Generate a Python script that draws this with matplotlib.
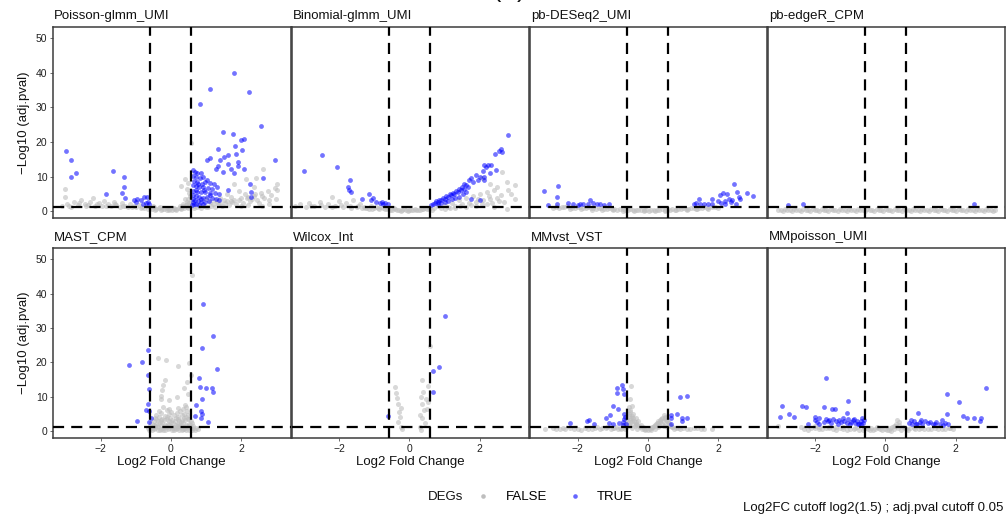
import numpy as np
import matplotlib
matplotlib.use("Agg")
import matplotlib.pyplot as plt
from matplotlib.lines import Line2D

plt.rcParams["font.family"] = ["Liberation Sans", "DejaVu Sans"]

# ---- DE results per method: (log2FC, -log10 adj.pval), split by DEG call ----
methods = ["Poisson-glmm_UMI", "Binomial-glmm_UMI", "pb-DESeq2_UMI", "pb-edgeR_CPM",
           "MAST_CPM", "Wilcox_Int", "MMvst_VST", "MMpoisson_UMI"]

poisson_false = [
    (-3.10, 1.6), (-3.02, 4.1), (-3.02, 6.6), (-2.95, 2.2), (-2.85, 1.4), (-2.75, 2.8), (-2.65, 1.8),
    (-2.55, 3.2), (-2.45, 2.0), (-2.40, 1.5), (-2.30, 2.6), (-2.20, 3.9), (-2.15, 1.7), (-2.05, 2.3),
    (-1.95, 1.5), (-1.90, 3.1), (-1.80, 2.0), (-1.70, 1.6), (-1.62, 2.6), (-1.55, 1.9), (-1.45, 1.4),
    (-1.40, 2.3), (-1.30, 1.7), (-1.22, 1.3), (-1.15, 2.0), (-1.05, 1.5), (-0.98, 1.2), (-0.90, 1.8),
    (-0.82, 1.3), (-0.75, 1.0), (-0.68, 1.5), (-0.60, 1.1), (-0.55, 0.8), (-0.48, 1.2), (-0.42, 0.7),
    (-0.35, 0.9), (-0.28, 0.5), (-0.20, 0.7), (-0.12, 0.4), (-0.05, 0.6), (0.02, 0.3), (0.08, 0.6),
    (0.15, 0.5), (0.22, 0.9), (0.28, 0.7), (0.33, 1.3), (0.38, 1.0), (0.42, 1.8), (0.47, 1.4),
    (0.52, 2.4), (0.55, 1.8), (0.58, 3.0), (-0.50, 1.5), (-0.30, 1.2), (-0.10, 1.0), (0.10, 1.1),
    (0.25, 1.6), (0.35, 2.2), (0.45, 2.8), (0.50, 3.6), (0.39, 9.4), (0.29, 7.3), (0.45, 6.5),
    (0.52, 5.2), (0.40, 3.5), (0.55, 4.5), (0.58, 19.6), (0.50, 8.3),
    (-2.90, 1.5), (-2.60, 2.3), (-2.35, 1.8), (-2.10, 2.0), (-1.85, 1.6), (-1.60, 2.1), (-1.35, 1.5),
    (-1.10, 1.4), (-0.85, 1.0), (-0.65, 0.8), (-0.45, 0.5), (-0.25, 0.8), (-0.05, 0.3), (0.15, 0.8),
    (0.30, 1.0), (0.45, 2.0), (0.50, 1.1), (0.35, 1.7),
    (0.65, 1.0), (0.75, 1.3), (0.85, 1.1), (0.95, 1.5), (1.05, 1.2), (1.15, 1.7), (1.25, 1.4),
    (1.35, 2.0), (1.45, 1.6), (1.55, 2.4), (1.65, 1.9), (1.75, 2.8), (1.85, 2.2), (1.95, 3.2),
    (2.05, 2.5), (2.15, 3.8), (2.25, 2.9), (2.35, 4.4), (2.45, 3.3), (2.55, 5.2), (2.65, 3.8),
    (2.75, 6.0), (2.85, 4.6), (2.95, 6.8), (3.02, 8.0), (3.02, 6.1), (3.00, 3.5), (2.62, 12.3),
    (2.42, 9.5), (2.13, 9.4), (1.80, 8.0), (2.36, 7.0), (1.95, 6.0), (1.60, 5.0), (1.40, 4.0),
    (1.25, 3.3), (2.10, 4.9), (2.50, 2.5), (2.80, 2.2), (1.10, 2.6), (1.00, 3.6), (1.50, 3.4),
    (1.70, 4.2), (2.20, 1.8), (2.60, 1.6), (2.00, 1.5),
    (0.65, 1.5), (0.80, 1.7), (1.00, 1.3), (1.20, 2.0), (1.40, 2.5), (1.60, 2.9), (1.80, 3.4),
    (2.00, 4.0), (2.20, 4.3), (2.40, 5.0), (1.30, 2.7), (1.70, 3.0), (2.30, 3.5), (2.60, 4.5),
    (2.80, 3.2),
]
poisson_true = [
    (1.78, 40.0), (1.12, 35.4), (2.22, 34.5), (0.84, 31.1), (2.57, 24.6), (1.47, 23.0), (1.77, 22.2),
    (1.99, 20.7), (2.09, 20.9), (1.82, 18.8), (1.35, 18.1), (2.01, 17.6), (1.63, 16.3), (1.86, 16.7),
    (1.10, 15.5), (1.02, 14.9), (1.50, 15.7), (1.41, 14.7), (2.95, 14.9), (1.90, 14.3), (1.62, 13.6),
    (1.33, 13.0), (1.28, 12.2), (1.70, 12.1), (2.09, 12.2), (1.90, 13.0), (1.78, 11.2), (1.49, 11.3),
    (2.62, 9.7), (2.24, 8.0), (2.27, 5.6), (2.29, 4.1), (1.38, 3.2), (1.63, 6.1),
    (0.62, 12.0), (0.68, 11.5), (0.75, 11.2), (0.85, 11.0), (0.62, 10.2), (0.72, 9.8), (0.82, 9.5),
    (0.92, 9.8), (1.02, 9.0), (0.65, 8.8), (0.75, 8.4), (0.88, 8.0), (0.98, 8.5), (1.12, 8.2),
    (1.22, 7.8), (0.62, 7.5), (0.70, 7.2), (0.80, 6.9), (0.92, 7.0), (1.05, 6.8), (1.18, 6.5),
    (1.30, 6.9), (0.64, 6.0), (0.74, 5.7), (0.86, 5.5), (0.98, 5.6), (1.10, 5.2), (1.24, 5.4),
    (1.36, 5.0), (0.62, 4.8), (0.70, 4.5), (0.80, 4.3), (0.92, 4.0), (1.04, 4.2), (1.16, 3.8),
    (1.28, 3.6), (0.62, 3.6), (0.68, 3.2), (0.76, 3.0), (0.86, 2.8), (0.96, 2.6), (1.08, 2.9),
    (0.62, 2.6), (0.66, 2.2), (0.72, 2.0), (0.80, 1.9), (0.90, 2.0), (0.60, 1.8), (0.70, 6.3),
    (0.78, 7.8), (0.95, 6.2), (1.12, 4.6), (0.86, 3.6),
    (-2.99, 17.5), (-2.83, 14.9), (-2.85, 10.0), (-2.70, 11.0), (-1.64, 11.6), (-1.33, 10.0),
    (-1.33, 7.0), (-1.38, 5.3), (-1.30, 3.8), (-1.83, 5.1), (-1.05, 3.2), (-0.95, 3.6), (-0.77, 4.1),
    (-0.67, 4.3), (-0.84, 3.2), (-0.64, 2.8), (-1.00, 2.8), (-0.72, 2.5), (-0.62, 2.0), (-0.80, 2.2),
]

binomial_false = [
    (-3.25, 1.5), (-3.10, 2.0), (-2.95, 1.3), (-2.85, 2.4), (-2.70, 1.6), (-2.55, 2.8), (-2.40, 1.4),
    (-2.30, 2.2), (-2.21, 4.1), (-2.10, 1.7), (-2.00, 3.0), (-1.90, 1.3), (-1.80, 2.3), (-1.70, 1.6),
    (-1.60, 3.2), (-1.50, 1.2), (-1.40, 2.0), (-1.30, 1.4), (-1.20, 1.0), (-1.10, 1.6), (-1.00, 1.1),
    (-0.90, 0.9), (-0.80, 1.3), (-0.70, 0.7), (-0.60, 1.0), (-0.50, 0.5), (-0.40, 0.7), (-0.30, 0.35),
    (-0.20, 0.5), (-0.10, 0.3), (0.00, 0.4), (0.10, 0.3), (0.20, 0.5), (0.30, 0.4), (0.40, 0.7),
    (0.50, 0.6), (0.60, 0.9), (-0.45, 0.9), (-0.15, 0.6), (0.15, 0.7), (0.45, 1.0), (-0.75, 1.1),
    (-1.05, 0.8), (-1.35, 1.0),
    (-2.80, 1.7), (-2.50, 1.9), (-2.20, 1.3), (-1.95, 1.8), (-1.65, 1.1), (-1.45, 1.6), (-1.25, 1.1),
    (-1.15, 0.7), (-0.95, 1.2), (-0.85, 0.6), (-0.65, 0.8), (-0.55, 0.5), (-0.35, 0.5), (-0.25, 0.2),
    (-0.05, 0.2), (0.05, 0.5), (0.25, 0.3), (0.35, 0.6), (0.55, 0.7), (0.65, 0.5),
    (0.70, 1.0), (0.80, 1.5), (0.90, 1.1), (1.00, 1.9), (1.10, 1.4), (1.20, 2.5), (1.30, 1.6),
    (1.40, 3.2), (1.50, 2.0), (1.60, 3.8), (1.70, 2.4), (1.80, 4.4), (1.90, 2.8), (2.00, 5.0),
    (2.10, 3.2), (2.20, 5.6), (2.30, 3.6), (2.40, 6.2), (2.50, 4.0), (2.60, 4.6), (2.63, 11.4),
    (2.77, 8.5), (2.99, 7.5), (2.80, 6.1), (2.90, 5.0), (2.78, 0.8), (2.40, 1.3), (2.20, 2.2),
    (1.90, 1.5), (2.70, 2.8), (3.00, 3.6), (2.50, 7.0), (2.30, 8.0), (2.05, 9.5), (1.60, 1.2),
    (1.30, 0.9), (1.00, 0.8), (1.15, 1.0), (1.45, 1.5), (1.75, 1.8), (2.05, 2.0), (2.35, 2.5),
    (2.55, 3.0), (1.95, 3.6), (2.25, 4.5),
]
binomial_true = [
    (2.80, 22.0), (2.59, 18.1), (2.44, 16.7), (2.63, 17.1), (2.56, 17.3), (-2.47, 16.2), (-3.00, 11.8),
    (-2.07, 12.8), (-1.68, 9.2), (-1.74, 7.0), (-1.66, 5.6), (-1.72, 6.1), (-1.34, 3.7), (-1.15, 4.9),
    (-1.08, 3.2), (-0.94, 2.7), (-0.83, 2.5), (-0.69, 2.3), (-0.79, 2.7), (-1.03, 3.9), (-0.62, 2.0),
    (-0.75, 2.1),
    (2.13, 13.3), (2.23, 13.3), (2.18, 12.8), (2.33, 13.3), (2.09, 11.8), (2.02, 9.9), (2.11, 9.9),
    (2.13, 9.0), (1.89, 10.5), (1.75, 9.5), (1.70, 9.0), (1.56, 8.0), (1.66, 7.0), (1.47, 6.1),
    (1.38, 5.6), (1.28, 4.9), (1.19, 4.6), (1.10, 4.1), (1.00, 3.7), (0.90, 3.2), (0.81, 2.8),
    (0.72, 2.3), (0.67, 2.1), (0.62, 1.9), (1.49, 7.0), (1.42, 6.5), (1.33, 5.9), (1.25, 5.3),
    (1.15, 5.0), (1.05, 4.4), (0.95, 3.9), (0.85, 3.4), (0.76, 2.9), (1.55, 6.6), (1.60, 7.5),
    (1.80, 8.5), (1.95, 9.0), (1.75, 3.7), (2.02, 3.2), (1.62, 5.5), (1.52, 5.0), (1.40, 4.3),
    (1.30, 3.9), (1.20, 3.5), (1.10, 3.0), (1.00, 2.6), (0.90, 2.3), (0.80, 2.0), (2.45, 12.0),
    (2.30, 11.0),
]

deseq2_false = [
    (-2.60, 1.4), (-2.45, 1.2), (-2.30, 1.5), (-2.15, 1.1), (-2.00, 1.3), (-1.85, 1.0), (-1.70, 1.2),
    (-1.55, 0.9), (-1.40, 1.1), (-1.25, 0.8), (-1.10, 0.9), (-0.95, 0.6), (-0.80, 0.8), (-0.65, 0.5),
    (-0.50, 0.6), (-0.35, 0.4), (-0.20, 0.5), (-0.05, 0.3), (0.10, 0.5), (0.25, 0.4), (0.40, 0.6),
    (0.55, 0.5), (0.70, 0.7), (0.85, 0.6), (1.00, 0.9), (1.15, 0.8), (1.30, 1.1), (1.45, 1.0),
    (1.60, 1.3), (1.75, 1.2), (1.90, 1.4), (-2.20, 0.8), (-1.90, 0.6), (-1.60, 0.5), (-1.30, 0.4),
    (-1.00, 0.3), (-0.70, 0.2), (-0.40, 0.2), (-0.10, 0.1), (0.20, 0.2), (0.50, 0.2), (0.80, 0.3),
    (1.10, 0.4), (1.40, 0.6), (1.70, 0.8),
    (-2.52, 1.0), (-2.37, 1.35), (-2.22, 1.2), (-2.07, 1.0), (-1.92, 1.15), (-1.77, 0.85),
    (-1.62, 1.0), (-1.47, 0.75), (-1.32, 0.95), (-1.17, 0.65), (-1.02, 0.75), (-0.87, 0.5),
    (-0.72, 0.6), (-0.57, 0.4), (-0.42, 0.5), (-0.27, 0.3), (-0.12, 0.4), (0.03, 0.25), (0.18, 0.35),
    (0.33, 0.5), (0.48, 0.35), (0.63, 0.55), (0.78, 0.45), (0.93, 0.7), (1.08, 0.65), (1.23, 0.9),
    (1.38, 0.8), (1.53, 1.1), (1.68, 1.0), (1.83, 1.2), (-2.70, 1.1), (2.00, 1.1),
]
deseq2_true = [
    (-2.95, 5.8), (-2.55, 7.3), (-2.57, 4.1), (-2.85, 1.9), (-2.57, 2.0), (-2.26, 2.4), (-2.12, 2.0),
    (-1.93, 2.2), (-1.83, 2.0), (-1.64, 3.4), (-1.55, 2.5), (-1.36, 2.2), (-1.45, 2.0), (-1.10, 2.1),
    (-1.25, 1.9), (-2.00, 1.9), (-1.70, 2.1), (1.44, 3.7), (1.30, 2.0), (1.38, 2.4), (1.83, 3.7),
    (1.83, 2.2), (2.04, 4.6), (2.13, 5.4), (2.25, 5.1), (2.44, 8.0), (2.53, 5.6), (2.81, 5.3),
    (3.00, 4.4), (2.63, 3.5), (2.32, 3.7), (2.36, 2.7), (2.08, 2.5), (2.20, 2.2), (2.40, 3.2),
    (1.99, 3.1), (1.59, 2.2), (1.49, 2.0), (1.70, 2.0), (2.50, 2.0), (2.60, 4.3), (2.20, 3.0),
]

edger_false = [
    (-3.05, 0.5), (-2.92, 0.2), (-2.80, 0.5), (-2.66, 0.2), (-2.53, 0.5), (-2.40, 0.2), (-2.27, 0.5),
    (-2.14, 0.2), (-2.01, 0.5), (-1.88, 0.2), (-1.75, 0.5), (-1.62, 0.2), (-1.49, 0.5), (-1.36, 0.2),
    (-1.23, 0.5), (-1.10, 0.2), (-0.97, 0.5), (-0.84, 0.2), (-0.71, 0.5), (-0.58, 0.2), (-0.45, 0.5),
    (-0.32, 0.2), (-0.19, 0.5), (-0.06, 0.2), (0.07, 0.5), (0.20, 0.2), (0.33, 0.5), (0.46, 0.2),
    (0.59, 0.5), (0.72, 0.2), (0.85, 0.5), (0.98, 0.2), (1.11, 0.5), (1.24, 0.2), (1.37, 0.5),
    (1.50, 0.2), (1.63, 0.5), (1.76, 0.2), (1.89, 0.5), (2.02, 0.2), (2.15, 0.5), (2.28, 0.2),
    (2.41, 0.5), (2.54, 0.2), (2.67, 0.5), (2.80, 0.2), (2.93, 0.5), (3.05, 0.2), (3.12, 0.5),
    (-2.98, 0.35), (-2.86, 0.65), (-2.72, 0.35), (-2.60, 0.65), (-2.46, 0.35), (-2.33, 0.65),
    (-2.20, 0.35), (-2.07, 0.65), (-1.94, 0.35), (-1.81, 0.65), (-1.68, 0.35), (-1.55, 0.65),
    (-1.42, 0.35), (-1.29, 0.65), (-1.16, 0.35), (-1.03, 0.65), (-0.90, 0.35), (-0.77, 0.65),
    (-0.64, 0.35), (-0.51, 0.65), (-0.38, 0.35), (-0.25, 0.65), (-0.12, 0.35), (0.01, 0.65),
    (0.14, 0.35), (0.27, 0.65), (0.40, 0.35), (0.53, 0.65), (0.66, 0.35), (0.79, 0.65),
    (0.92, 0.35), (1.05, 0.65), (1.18, 0.35), (1.31, 0.65), (1.44, 0.35), (1.57, 0.65),
    (1.70, 0.35), (1.83, 0.65), (1.96, 0.35), (2.09, 0.65), (2.22, 0.35), (2.35, 0.65),
    (2.48, 0.35), (2.61, 0.65), (2.74, 0.35), (2.87, 0.65), (3.00, 0.35),
]
edger_true = [(-2.77, 1.9), (-2.33, 2.2), (2.53, 2.0)]

mast_false = [
    (-0.38, 21.2), (-0.13, 20.6), (0.19, 18.9), (0.52, 19.8), (-0.18, 14.9), (-0.22, 13.5),
    (-0.24, 12.1), (-0.28, 10.4), (-0.06, 9.0), (0.16, 9.9), (0.37, 12.5), (0.46, 14.3), (0.56, 16.4),
    (0.59, 45.3), (0.48, 11.0), (0.40, 7.6), (-0.04, 6.5), (-0.28, 9.4),
    (-0.62, 0.4), (-0.47, 0.6), (-0.31, 0.3), (-0.16, 0.5), (0.02, 0.4), (0.14, 0.6), (0.31, 0.3),
    (0.44, 0.5), (0.61, 0.4), (0.76, 0.6), (-0.66, 1.1), (-0.52, 0.9), (-0.36, 1.2), (-0.21, 1.0),
    (-0.04, 1.1), (0.11, 0.9), (0.26, 1.2), (0.41, 1.0), (0.56, 1.1), (0.71, 0.9), (-0.58, 1.7),
    (-0.44, 1.5), (-0.29, 1.8), (-0.13, 1.6), (0.01, 1.7), (0.16, 1.5), (0.29, 1.8), (0.46, 1.6),
    (0.62, 1.7), (-0.56, 2.4), (-0.41, 2.2), (-0.24, 2.5), (-0.09, 2.3), (0.06, 2.4), (0.21, 2.2),
    (0.34, 2.5), (0.51, 2.3), (-0.49, 3.1), (-0.36, 2.9), (-0.19, 3.2), (-0.06, 3.0), (0.11, 3.1),
    (0.24, 2.9), (0.41, 3.2), (0.56, 3.0), (-0.46, 3.9), (-0.24, 3.7), (-0.03, 4.0), (0.14, 3.8),
    (0.36, 3.9), (0.51, 3.7), (-0.41, 4.8), (-0.16, 4.6), (0.09, 4.9), (0.31, 4.7), (0.49, 4.8),
    (-0.34, 5.9), (0.01, 5.7), (0.26, 6.0), (0.46, 5.8), (-0.21, 7.1), (0.19, 6.9), (0.43, 7.2),
    (-0.55, 0.3), (-0.38, 0.5), (-0.22, 0.3), (-0.08, 0.6), (0.08, 0.3), (0.22, 0.5), (0.38, 0.6),
    (0.52, 0.3), (0.68, 0.5), (-0.60, 0.8), (-0.44, 1.0), (-0.28, 0.8), (-0.12, 1.3), (0.04, 0.9),
    (0.19, 1.1), (0.34, 0.8), (0.49, 1.3), (0.64, 0.9), (-0.52, 1.4), (-0.36, 1.6), (-0.20, 1.4),
    (-0.06, 1.9), (0.09, 1.4), (0.24, 1.7), (0.38, 1.4), (0.54, 1.9), (-0.48, 2.0), (-0.32, 2.6),
    (-0.16, 2.0), (0.00, 2.8), (0.14, 2.0), (0.28, 2.6), (0.44, 2.0), (0.60, 2.5), (-0.42, 3.5),
    (-0.28, 3.3), (-0.12, 3.6), (0.04, 3.4), (0.20, 3.5), (0.32, 3.3), (0.48, 3.5), (-0.35, 4.3),
    (-0.10, 4.2), (0.20, 4.3), (0.42, 4.3), (-0.28, 5.3), (-0.05, 5.2), (0.18, 5.4), (0.38, 5.2),
    (-0.10, 6.3), (0.35, 6.4),
]
mast_true = [
    (0.92, 37.1), (1.21, 27.8), (0.89, 24.3), (-0.64, 23.6), (-1.19, 19.3), (-0.81, 20.1),
    (1.30, 18.0), (-0.66, 16.3), (0.80, 15.5), (-0.62, 12.3), (0.82, 12.9), (0.99, 12.6),
    (1.18, 12.6), (1.19, 11.4), (0.89, 9.3), (-0.65, 8.0), (0.71, 7.7), (-0.72, 6.1), (-0.62, 6.0),
    (0.87, 5.8), (0.89, 5.2), (0.86, 3.9), (1.05, 2.8), (-0.97, 3.1), (-0.57, 4.0), (0.69, 4.4),
    (-0.63, 2.7),
]

wilcox_false = [
    (0.59, 24.9), (0.37, 15.0), (0.53, 13.1), (-0.41, 13.0), (-0.37, 11.2), (0.33, 9.9), (0.47, 9.5),
    (-0.33, 8.1), (-0.25, 6.9), (-0.30, 5.5), (0.37, 7.9), (0.41, 6.1), (0.30, 4.7), (-0.33, 2.7),
    (-0.25, 1.4), (0.30, 1.4), (0.37, 3.9), (0.51, 6.5), (0.54, 8.6), (-0.28, 4.2), (-0.36, 9.8),
    (0.32, 0.5), (0.45, 2.5), (-0.22, 0.8), (0.40, 11.5),
]
wilcox_true = [(1.00, 33.5), (0.83, 18.8), (0.66, 17.6), (0.66, 11.4), (-0.62, 4.6)]

mmvst_false = [
    (-2.92, 0.8), (-2.50, 0.8), (-2.20, 1.0), (-2.00, 0.7), (-1.80, 1.1), (-1.60, 0.8), (-1.45, 1.2),
    (-1.30, 0.9), (-1.15, 1.3), (-1.00, 1.0), (-0.90, 1.4), (-0.80, 1.1), (-0.70, 1.8), (-0.62, 2.5),
    (-0.58, 3.5), (-0.55, 4.5), (-0.52, 5.5), (-0.50, 6.3), (-0.49, 13.3), (-0.51, 9.5), (-0.44, 7.5),
    (-0.47, 4.0), (-0.42, 5.2), (-0.40, 3.0), (-0.35, 4.0), (-0.33, 2.2), (-0.28, 2.9), (-0.25, 1.6),
    (-0.20, 2.0), (-0.15, 1.2), (-0.10, 0.8), (-0.05, 0.6), (0.00, 0.4), (0.05, 0.6), (0.10, 0.9),
    (0.15, 1.4), (0.20, 1.9), (0.25, 2.4), (0.30, 2.9), (0.35, 3.4), (0.40, 4.0), (0.45, 4.8),
    (0.50, 3.8), (0.55, 3.0), (0.60, 2.4), (0.65, 1.6), (0.70, 1.2), (0.80, 1.0), (0.90, 0.8),
    (1.00, 0.9), (1.20, 0.7), (1.40, 0.9), (1.60, 0.8), (1.83, 0.8), (-0.60, 1.3), (-0.45, 1.0),
    (-0.30, 0.8), (0.30, 1.2), (0.45, 1.5), (0.20, 0.8), (-0.52, 2.0), (-0.38, 1.5), (0.40, 2.2),
    (0.50, 2.0), (-0.65, 0.6), (-0.55, 7.2), (-0.60, 3.0), (-0.45, 3.0), (-0.38, 2.0), (0.32, 1.8),
    (0.42, 3.0), (0.55, 1.2), (-0.70, 1.0), (-0.75, 0.7), (-2.70, 1.0), (-2.35, 0.6), (-1.90, 0.5),
    (-2.60, 0.6), (-2.40, 0.9), (-2.10, 0.7), (-1.70, 0.6), (-1.50, 0.9), (-1.35, 0.6), (-1.20, 1.0),
    (-1.05, 0.7), (-0.95, 1.1), (-0.85, 0.8), (-0.65, 1.4), (-0.55, 2.0), (-0.48, 2.6), (-0.50, 3.3),
    (-0.45, 4.5), (-0.53, 5.0), (-0.42, 3.8), (-0.35, 2.6), (-0.30, 1.8), (-0.22, 1.2), (-0.18, 0.8),
    (-0.08, 0.5), (0.08, 0.5), (0.12, 1.2), (0.18, 1.5), (0.22, 2.2), (0.28, 2.5), (0.35, 2.8),
    (0.38, 3.6), (0.48, 4.3), (0.52, 3.3), (0.58, 2.8), (0.62, 2.0), (0.68, 1.4), (0.75, 0.8),
    (0.85, 1.1), (1.10, 0.8), (1.30, 0.9), (1.50, 0.7),
]
mmvst_true = [
    (-0.89, 12.5), (-0.74, 13.5), (-0.72, 12.4), (-0.89, 11.2), (-0.67, 11.0), (-0.98, 7.5),
    (-0.85, 6.4), (-1.20, 3.9), (-1.08, 4.8), (-0.67, 5.0), (-0.64, 4.1), (-1.74, 3.0), (-1.68, 3.2),
    (-1.53, 2.1), (-2.21, 2.5), (-1.10, 2.5), (-1.00, 2.2), (-0.81, 2.5), (-0.72, 2.8), (-0.67, 3.5),
    (0.91, 10.1), (1.10, 10.4), (0.65, 4.8), (0.83, 5.0), (0.67, 3.8), (0.98, 3.8), (1.12, 4.0),
    (0.96, 3.0), (0.67, 2.1), (-0.62, 2.2), (-0.70, 2.0),
]

mmpoisson_false = [
    (-3.05, 1.5), (-2.30, 0.8), (-2.10, 1.1), (-1.90, 0.7), (-1.70, 1.0), (-1.50, 0.6), (-1.30, 0.9),
    (-1.10, 0.5), (-0.90, 0.8), (-0.75, 0.5), (-0.60, 0.9), (-0.50, 0.6), (-0.40, 1.1), (-0.30, 0.7),
    (-0.20, 1.0), (-0.10, 0.4), (0.00, 0.8), (0.10, 0.5), (0.20, 1.3), (0.30, 2.2), (0.33, 3.2),
    (0.40, 1.8), (0.50, 1.2), (0.60, 0.7), (0.70, 1.0), (0.85, 0.6), (1.00, 0.9), (1.20, 0.7),
    (1.40, 1.0), (1.60, 0.8), (1.80, 1.1), (1.93, 0.7), (-2.00, 1.5), (-1.60, 1.4), (-1.20, 1.3),
    (-0.80, 1.2), (-0.45, 0.3), (0.15, 0.2), (0.45, 0.5), (-0.25, 1.4), (0.25, 1.7),
    (-2.20, 0.5), (-2.00, 0.9), (-1.80, 0.6), (-1.60, 0.9), (-1.40, 0.5), (-1.20, 0.8), (-1.00, 0.6),
    (-0.85, 0.9), (-0.65, 0.4), (-0.55, 1.0), (-0.35, 0.5), (-0.15, 0.7), (0.05, 0.5), (0.12, 1.0),
    (0.25, 0.6), (0.35, 1.0), (0.55, 0.9), (0.65, 0.5), (0.80, 0.9), (0.95, 0.6), (1.10, 0.8),
    (1.30, 0.6), (1.50, 0.8), (1.70, 0.6), (1.85, 0.9), (-2.40, 1.2), (-1.90, 1.2), (-1.40, 1.2),
    (0.38, 2.6), (0.28, 1.6),
]
mmpoisson_true = [
    (-1.70, 15.6), (2.85, 12.6), (1.75, 10.9), (2.08, 8.5), (-2.95, 7.3), (-2.37, 7.3), (-2.25, 7.0),
    (-1.75, 7.0), (-1.51, 6.6), (-1.44, 6.6), (-1.05, 8.9), (-2.73, 5.1), (-2.60, 4.2), (-3.00, 4.3),
    (-1.10, 5.3), (-1.99, 4.1), (-1.88, 3.9), (-1.70, 3.7), (-1.60, 3.2), (0.94, 5.3), (1.74, 5.1),
    (2.21, 4.5), (2.33, 4.0), (2.51, 4.0), (2.71, 3.9), (2.70, 3.0), (-2.20, 2.1),
    (-1.48, 3.6), (-1.40, 2.9), (-1.32, 3.3), (-1.25, 2.6), (-1.18, 3.1), (-1.10, 2.4), (-1.05, 3.5),
    (-0.98, 2.8), (-0.92, 3.2), (-0.85, 2.5), (-0.80, 3.0), (-0.74, 2.3), (-0.70, 2.9), (-0.65, 2.5),
    (-0.62, 3.4), (-0.66, 3.9), (-1.20, 4.0), (-0.88, 3.7), (-1.55, 2.4), (-1.62, 3.0), (-1.75, 2.6),
    (-1.90, 2.3), (-2.00, 3.3), (-1.95, 2.8), (-1.35, 2.3), (-1.00, 2.2), (-0.78, 2.2), (-0.68, 2.1),
    (0.66, 2.5), (0.75, 2.2), (0.82, 2.9), (0.90, 2.3), (0.98, 2.7), (1.05, 2.2), (1.12, 3.0),
    (1.20, 2.4), (1.28, 2.8), (1.35, 2.2), (1.45, 2.6), (1.55, 2.3), (1.62, 3.3), (1.70, 2.4),
    (1.78, 2.2), (1.00, 3.3), (0.72, 3.2), (1.40, 2.1), (1.65, 2.0), (0.88, 2.1),
]

false_sets = [poisson_false, binomial_false, deseq2_false, edger_false,
              mast_false, wilcox_false, mmvst_false, mmpoisson_false]
true_sets = [poisson_true, binomial_true, deseq2_true, edger_true,
             mast_true, wilcox_true, mmvst_true, mmpoisson_true]

fc_cutoff = np.log2(1.5)
p_cutoff = -np.log10(0.05)
y_ticks = [0, 10, 20, 30, 40, 50]
x_ticks = [-2, 0, 2]

grey = "#bebebe"
blue = "#0000ff"
frame_col = "#3c3c3c"

W, H = 1006, 519
fig = plt.figure(figsize=(W / 100, H / 100), dpi=100)

lefts = [53, 291.5, 530, 767.5]
pw = 237.5
rows = [(27, 218), (248, 438)]

for i, name in enumerate(methods):
    r, c = divmod(i, 4)
    top, bot = rows[r]
    ax = fig.add_axes([lefts[c] / W, 1 - bot / H, pw / W, (bot - top) / H])
    fx, fy = np.array(false_sets[i]).T
    tx, ty = np.array(true_sets[i]).T
    ax.scatter(fx, fy, s=13, color=grey, alpha=0.6, linewidths=0, zorder=2)
    ax.scatter(tx, ty, s=12, color=blue, alpha=0.55, linewidths=0, zorder=3)
    for v in (-fc_cutoff, fc_cutoff):
        ax.axvline(v, color="black", lw=1.6, ls=(0, (5, 3.2)), zorder=4)
    ax.axhline(p_cutoff, color="black", lw=1.6, ls=(0, (5, 3.2)), zorder=4)
    ax.set_xlim(-3.35, 3.40)
    ax.set_ylim(-1.9, 53.2)
    for sp in ax.spines.values():
        sp.set_color(frame_col)
        sp.set_linewidth(1.1)
    ax.set_xticks(x_ticks)
    ax.set_yticks(y_ticks)
    ax.tick_params(length=2.5, width=0.6, color="#555555", labelsize=7.5,
                   labelcolor="#222222", pad=1.5)
    if r == 0:
        ax.tick_params(axis="x", labelbottom=False, length=0)
    else:
        ax.set_xticklabels(["\u22122", "0", "2"])
        ax.set_xlabel("Log2 Fold Change", fontsize=9.5, labelpad=2, color="#111111")
    if c != 0:
        ax.tick_params(axis="y", labelleft=False, length=0)
    else:
        ax.set_ylabel("\u2212Log10 (adj.pval)", fontsize=9.5, labelpad=4, color="#111111")
    ax.text(0.005, 1.025, name, transform=ax.transAxes, ha="left", va="bottom",
            fontsize=9.5, color="#111111")

# legend for DEG call
fig.text(428 / W, 1 - 497 / H, "DEGs", ha="left", va="center", fontsize=9.5, color="#111111")
handles = [Line2D([], [], ls="none", marker="o", markersize=3.3, color=grey, markeredgewidth=0),
           Line2D([], [], ls="none", marker="o", markersize=3.3, color=blue, alpha=0.6,
                  markeredgewidth=0)]
fig.legend(handles, ["FALSE", "TRUE"], ncol=2, frameon=False, fontsize=9.5,
           loc="center left", bbox_to_anchor=(466 / W, 1 - 497 / H),
           handlelength=1.6, handletextpad=0.9, columnspacing=1.3, borderpad=0)

fig.text(1003 / W, 1 - 508 / H, "Log2FC cutoff log2(1.5) ; adj.pval cutoff 0.05",
         ha="right", va="center", fontsize=9.5, color="#111111")

# panel tag running off the top edge
fig.text(509 / W, 1.0055, "(B)", ha="center", va="baseline", fontsize=18, color="#111111")

fig.savefig("out.png", dpi=100)
